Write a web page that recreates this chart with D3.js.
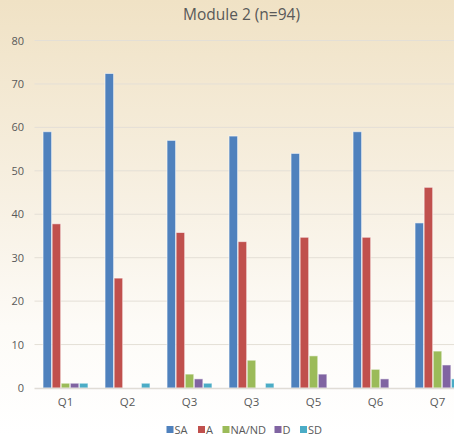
<!DOCTYPE html>
<html>
<head>
<meta charset="utf-8">
<script src="https://cdn.jsdelivr.net/npm/d3@7/dist/d3.min.js"></script>
<style>
  html, body { margin: 0; padding: 0; overflow: hidden; }
  svg { display: block; }
</style>
</head>
<body>
<svg id="chart" width="454" height="436"></svg>
<script>
const categories = ["Q1", "Q2", "Q3", "Q3", "Q5", "Q6", "Q7"];
const seriesNames = ["SA", "A", "NA/ND", "D", "SD"];
const seriesColors = ["#4f81bd", "#c0504d", "#9bbb59", "#8064a2", "#4bacc6"];
const SA    = [59, 72.4, 57, 58, 54, 59, 38];
const A     = [37.8, 25.3, 35.8, 33.7, 34.7, 34.7, 46.2];
const NAND  = [1.1, 0, 3.2, 6.4, 7.4, 4.3, 8.5];
const D     = [1.1, 0, 2.1, 0, 3.2, 2.1, 5.3];
const SD    = [1.1, 1.1, 1.1, 1.1, 0, 0, 2.1];
const yTicks = [0, 10, 20, 30, 40, 50, 60, 70, 80];
const title = "Module 2 (n=94)";

const seriesValues = [SA, A, NAND, D, SD];
const W = 454, H = 436;
const svg = d3.select("#chart");

// background gradient
const defs = svg.append("defs");
const grad = defs.append("linearGradient").attr("id", "bg").attr("x1", 0).attr("y1", 0).attr("x2", 0).attr("y2", 1);
grad.append("stop").attr("offset", "0%").attr("stop-color", "#f0e2c5");
grad.append("stop").attr("offset", "45%").attr("stop-color", "#f7f0e2");
grad.append("stop").attr("offset", "75%").attr("stop-color", "#fdfbf7");
grad.append("stop").attr("offset", "100%").attr("stop-color", "#ffffff");
svg.append("rect").attr("width", W).attr("height", H).attr("fill", "url(#bg)");

const left = 34.5, bandW = 62;
const x = d3.scaleBand().domain(d3.range(categories.length)).range([left, left + bandW * categories.length]).paddingInner(0).paddingOuter(0);
const inner = d3.scaleBand().domain(d3.range(seriesNames.length)).range([8, bandW - 8]).padding(0.06);
const y = d3.scaleLinear().domain([0, 80]).range([388, 40.5]);

// gridlines
svg.append("g").selectAll("line").data(yTicks.filter(t => t > 0)).join("line")
  .attr("x1", left).attr("x2", W)
  .attr("y1", d => y(d)).attr("y2", d => y(d))
  .attr("stroke", "#e4dfd6").attr("stroke-width", 1);

// y axis labels
const yAxis = d3.axisLeft(y).tickValues(yTicks).tickSize(0).tickPadding(0);
const ya = svg.append("g").attr("transform", `translate(24,0)`).call(yAxis);
ya.select(".domain").remove();
ya.selectAll("text").attr("font-family", "Open Sans, sans-serif").attr("font-size", 11).attr("fill", "#595959");

// bars
const barData = [];
seriesValues.forEach((vals, si) => vals.forEach((v, ci) => { if (v > 0) barData.push({ si, ci, v }); }));
svg.append("g").selectAll("rect").data(barData).join("rect")
  .attr("fill", d => seriesColors[d.si])
  .attr("x", d => x(d.ci) + inner(d.si))
  .attr("width", inner.bandwidth())
  .attr("y", d => y(d.v))
  .attr("height", d => y(0) - y(d.v))
  .attr("stroke", "rgba(255,255,255,0.55)")
  .attr("stroke-width", 1);

// baseline
svg.append("line").attr("x1", left).attr("x2", W).attr("y1", y(0) + 0.5).attr("y2", y(0) + 0.5)
  .attr("stroke", "#e0dcd6").attr("stroke-width", 1.5);

// x axis labels
const xAxis = d3.axisBottom(x).tickFormat(i => categories[i]).tickSize(0).tickPadding(0);
const xa = svg.append("g").attr("transform", `translate(0,${y(0) + 10})`).call(xAxis);
xa.select(".domain").remove();
xa.selectAll("text").attr("font-family", "Open Sans, sans-serif").attr("font-size", 11.5).attr("fill", "#595959");

// title
svg.append("text").attr("x", 241.5).attr("y", 20).attr("text-anchor", "middle")
  .attr("font-family", "Open Sans, sans-serif").attr("font-size", 15.5).attr("fill", "#595959")
  .text(title);

// legend
const legendX = [166.5, 198, 222.5, 274.5, 300];
const lg = svg.append("g").selectAll("g").data(seriesNames).join("g")
  .attr("transform", (d, i) => `translate(${legendX[i]},429.5)`);
lg.append("rect").attr("x", 0).attr("y", -3.5).attr("width", 7).attr("height", 7)
  .attr("fill", (d, i) => seriesColors[i]);
lg.append("text").attr("x", 8).attr("y", 4).attr("font-family", "Open Sans, sans-serif")
  .attr("font-size", 11).attr("fill", "#595959").text(d => d);
</script>
</body>
</html>
